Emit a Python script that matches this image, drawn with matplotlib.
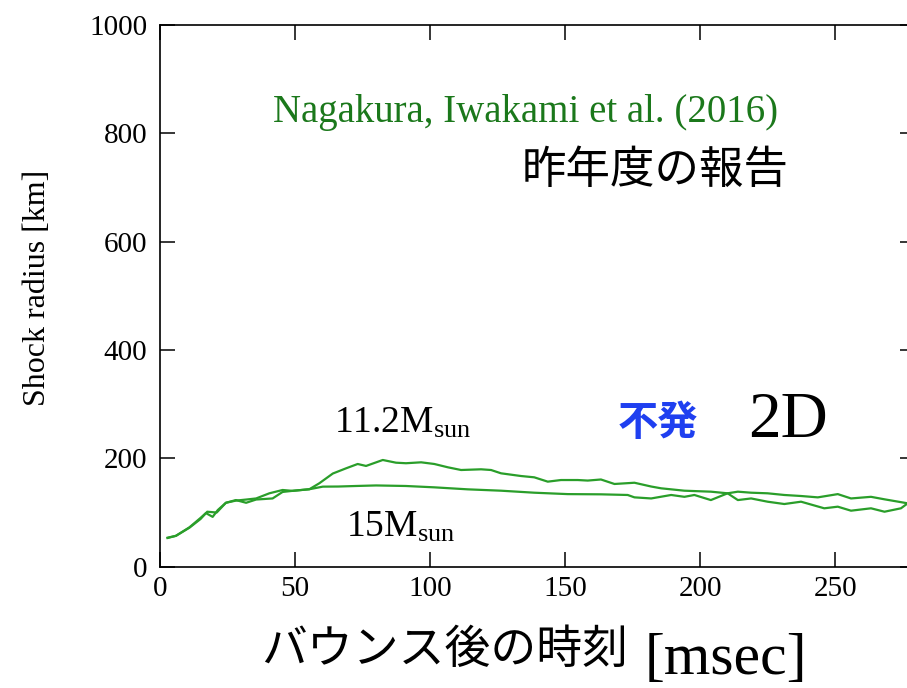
import matplotlib
matplotlib.use("Agg")
import matplotlib.pyplot as plt

plt.rcParams['font.family'] = ['Liberation Serif', 'DejaVu Serif']
plt.rcParams['mathtext.fontset'] = 'custom'
plt.rcParams['mathtext.rm'] = 'Liberation Serif'
plt.rcParams['mathtext.it'] = 'Liberation Serif:italic'

JP = ['Noto Sans CJK JP', 'DejaVu Sans']

# 11.2 Msun model (time after bounce [ms], shock radius [km])
t11 = [2.8, 5.9, 10.9, 15, 17, 19.5, 21.4, 24.4, 28.1, 31.9, 35.6, 41.7, 45.4, 49, 55.3,
       59, 64, 68.9, 73.2, 76.3, 82.5, 87.4, 91.1, 96.7, 101.6, 106.6, 111.5, 118.9, 122.6,
       126.3, 133.7, 138.6, 143.6, 148.5, 154.7, 158.4, 163.3, 168.3, 175.7, 181.9, 185.6,
       194.2, 204, 210.2, 214, 218.9, 225, 231.2, 237.4, 246, 251, 255.9, 263.3, 268.3,
       274.4, 276.9]
r11 = [53.5, 57, 72.7, 90, 99, 92, 104.6, 118, 123, 118, 124, 126, 138, 140, 143,
       154, 172, 181.6, 189.6, 186, 197, 192, 191, 192.7, 189.6, 183.5, 178.5, 179.8, 178.5,
       172.4, 167.4, 165, 157, 160, 160, 159, 161, 152.7, 155, 148, 144.7,
       140.3, 138.5, 135.5, 123, 126, 120, 115.7, 120, 107.8, 110.8, 103.4, 107.8, 101.5,
       107.8, 117]

# 15 Msun model
t15 = [2.8, 5.9, 10.9, 15, 17.5, 21, 24.4, 28.1, 32, 35.6, 40.5, 45.4, 49, 55.3, 60.3,
       66, 72.6, 80, 91, 101.6, 114, 126.3, 138.6, 151, 163.3, 173.2, 175.7, 181.9, 189.3,
       194.2, 197.9, 204, 210.2, 214, 218.9, 225, 231.2, 237.4, 243.6, 251, 255.9, 263.3,
       268.3, 276.9]
r15 = [53, 57, 72, 88, 101.5, 100, 118, 122, 124, 126, 135.5, 141.6, 140, 143, 147.8,
       148, 149, 150, 149, 146.5, 142.8, 140.3, 136.6, 134, 133.6, 132.4, 128, 126, 132.4,
       129, 132.4, 123, 135.5, 138.5, 136.6, 135.5, 132.4, 130.5, 128, 134, 126, 129,
       124.4, 117]

xticks = [0, 50, 100, 150, 200, 250]
yticks = [0, 200, 400, 600, 800, 1000]

fig = plt.figure(figsize=(9.07, 6.88), dpi=100)
ax = fig.add_axes([160 / 907, 1 - 566.7 / 688, 755 / 907, 541.7 / 688])

line_green = '#2a9e2a'
ax.plot(t11, r11, color=line_green, lw=1.6)
ax.plot(t15, r15, color=line_green, lw=1.6)

ax.set_xlim(0, 279.6)
ax.set_ylim(0, 1000)
ax.set_xticks(xticks)
ax.set_yticks(yticks)
ax.tick_params(direction='in', length=10.8, width=1.1, top=True, right=True,
               labelsize=21)
ax.tick_params(axis='y', pad=9)
ax.tick_params(axis='x', pad=7)
for s in ax.spines.values():
    s.set_linewidth(1.2)

# annotations
ax.text(41.9, 821, 'Nagakura, Iwakami et al. (2016)', color='#1b781b', fontsize=28,
        ha='left', va='baseline')
ax.text(183.3, 732, '昨年度の報告', family=JP, fontsize=32, ha='center', va='center')
ax.text(64.4, 247, r'11.2M$_{\mathrm{sun}}$', fontsize=27, ha='left', va='baseline')
ax.text(68.9, 55, r'15M$_{\mathrm{sun}}$', fontsize=27, ha='left', va='baseline')
ax.text(184.4, 264, '不発', family=JP, color='#1f3ff0', fontsize=29, fontweight='bold',
        ha='center', va='center')
ax.text(217.8, 239.5, '2D', fontsize=47, ha='left', va='baseline')

# axis labels
fig.text(38 / 907, 1 - 288 / 688, 'Shock radius [km]', rotation=90, fontsize=23,
         ha='center', va='center')
fig.text(628 / 907, 1 - 650 / 688, 'バウンス後の時刻', family=JP, fontsize=33,
         ha='right', va='center')
fig.text(645 / 907, 1 - 674 / 688, '[msec]', fontsize=43, ha='left', va='baseline')

fig.savefig('out.png', dpi=100)
